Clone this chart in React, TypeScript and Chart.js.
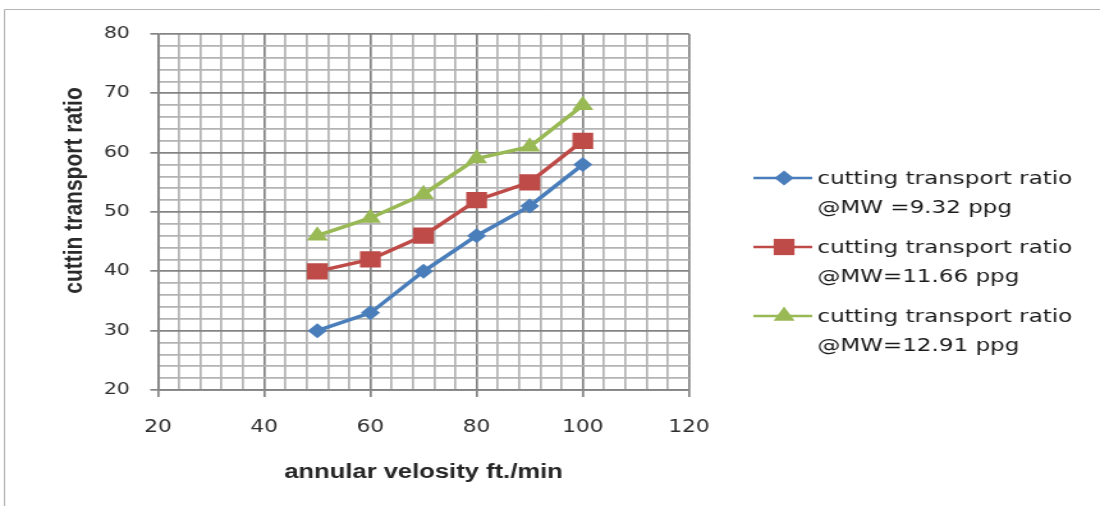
import React, { useEffect, useRef } from "react";
import { Chart, registerables } from "chart.js";

Chart.register(...registerables);

// ---- data ----
const velocity = [50, 60, 70, 80, 90, 100];
const ratioMW932 = [30, 33, 40, 46, 51, 58];
const ratioMW1166 = [40, 42, 46, 52, 55, 62];
const ratioMW1291 = [46, 49, 53, 59, 61, 68];
const seriesLabels = [
  ["cutting transport ratio", "@MW =9.32 ppg"],
  ["cutting transport ratio", "@MW=11.66 ppg"],
  ["cutting transport ratio", "@MW=12.91 ppg"],
];
const seriesColors = ["#4a7ebb", "#be4b48", "#98b954"];
const seriesMarkers = ["rectRot", "rect", "triangle"];
const seriesMarkerSizes = [7.5, 11.5, 9.5];
const xTitle = "annular velosity ft./min";
const yTitle = "cuttin transport ratio";

// ---- geometry (canvas is drawn narrower and stretched horizontally like the reference) ----
const CANVAS_W = 860;
const CANVAS_H = 506;
const STRETCH = 1100 / CANVAS_W;
const MAJOR = "#848484";
const MINOR = "#b3b3b3";

function markerPath(ctx: CanvasRenderingContext2D, style: string, cx: number, cy: number, r: number) {
  ctx.beginPath();
  if (style === "rectRot") {
    ctx.moveTo(cx - r, cy);
    ctx.lineTo(cx, cy - r);
    ctx.lineTo(cx + r, cy);
    ctx.lineTo(cx, cy + r);
  } else if (style === "rect") {
    const h = Math.SQRT1_2 * r;
    ctx.rect(cx - h, cy - h, 2 * h, 2 * h);
  } else {
    for (let k = 0; k < 3; k++) {
      const a = (k * 2 * Math.PI) / 3;
      const px = cx + Math.sin(a) * r;
      const py = cy - Math.cos(a) * r;
      if (k === 0) ctx.moveTo(px, py);
      else ctx.lineTo(px, py);
    }
  }
  ctx.closePath();
}

const framePlugin = {
  id: "frame",
  beforeDraw(chart: any) {
    const ctx = chart.ctx as CanvasRenderingContext2D;
    ctx.save();
    ctx.fillStyle = "#ffffff";
    ctx.fillRect(0, 0, chart.width, chart.height);
    ctx.strokeStyle = "#b5b5b5";
    ctx.lineWidth = 1;
    ctx.beginPath();
    ctx.moveTo(3.5, chart.height);
    ctx.lineTo(3.5, 9.5);
    ctx.lineTo(chart.width, 9.5);
    ctx.stroke();
    ctx.restore();
  },
  afterDraw(chart: any) {
    const ctx = chart.ctx as CanvasRenderingContext2D;
    // y axis title
    ctx.save();
    ctx.translate(58.6, 190.5);
    ctx.rotate(-Math.PI / 2);
    ctx.font = "bold 21px 'Liberation Sans', Arial, sans-serif";
    ctx.fillStyle = "#2a2a2a";
    ctx.textAlign = "center";
    ctx.textBaseline = "middle";
    ctx.fillText(yTitle, 0, 0);
    ctx.restore();

    // legend
    const lineX0 = 589;
    const lineX1 = 635;
    const markX = 613;
    const textX = 639;
    chart.data.datasets.forEach((ds: any, i: number) => {
      const y = 178 + 69 * i;
      ctx.save();
      ctx.strokeStyle = ds.borderColor;
      ctx.lineWidth = 2.5;
      ctx.beginPath();
      ctx.moveTo(lineX0, y);
      ctx.lineTo(lineX1, y);
      ctx.stroke();
      markerPath(ctx, ds.pointStyle, markX, y, ds.pointRadius);
      ctx.fillStyle = ds.pointBackgroundColor;
      ctx.fill();
      ctx.font = "18px 'DejaVu Sans', Verdana, sans-serif";
      ctx.fillStyle = "#1a1a1a";
      ctx.textAlign = "left";
      ctx.textBaseline = "middle";
      const lines: string[] = ds.legendLines;
      lines.forEach((t, j) => ctx.fillText(t, textX, y + 1 + j * 29));
      ctx.restore();
    });
  },
};

export default function App() {
  const canvasRef = useRef<HTMLCanvasElement | null>(null);

  useEffect(() => {
    document.body.style.margin = "0";
    document.body.style.overflow = "hidden";
    const canvas = canvasRef.current;
    if (!canvas) return;
    const series = [ratioMW932, ratioMW1166, ratioMW1291];
    const datasets = series.map((vals, i) => ({
      label: seriesLabels[i].join(" "),
      legendLines: seriesLabels[i],
      data: velocity.map((v, k) => ({ x: v, y: vals[k] })),
      borderColor: seriesColors[i],
      backgroundColor: seriesColors[i],
      borderWidth: 3.5,
      pointStyle: seriesMarkers[i],
      pointRadius: seriesMarkerSizes[i],
      pointBackgroundColor: seriesColors[i],
      pointBorderColor: seriesColors[i],
      pointBorderWidth: 0,
      tension: 0,
      fill: false,
    }));

    const chart = new Chart(canvas, {
      type: "line",
      data: { datasets: datasets as any },
      options: {
        responsive: false,
        animation: false,
        devicePixelRatio: 1,
        layout: { padding: { top: 34, right: CANVAS_W - 538.7, left: 0, bottom: 0 } },
        plugins: { legend: { display: false }, tooltip: { enabled: false } },
        scales: {
          x: {
            type: "linear",
            min: 20,
            max: 120,
            afterFit: (s: any) => {
              s.height = 116;
            },
            ticks: {
              stepSize: 4,
              autoSkip: false,
              maxRotation: 0,
              padding: 20,
              color: "#2e2e2e",
              font: { family: "'DejaVu Sans', Verdana, sans-serif", size: 17 },
              callback: (v: any) => (Number(v) % 20 === 0 ? String(v) : ""),
            },
            grid: {
              color: (c: any) => (c.tick && c.tick.value % 20 === 0 ? MAJOR : MINOR),
              tickColor: (c: any) => (c.tick && c.tick.value % 20 === 0 ? MAJOR : "rgba(0,0,0,0)"),
              lineWidth: 1.7,
              tickLength: 7,
            },
            border: { color: MAJOR, width: 1.7 },
            title: {
              display: true,
              text: xTitle,
              color: "#262626",
              font: { family: "'Liberation Sans', Arial, sans-serif", size: 20, weight: "bold" },
              padding: { top: 0, bottom: 22 },
            },
          },
          y: {
            type: "linear",
            min: 20,
            max: 80,
            afterFit: (s: any) => {
              s.width = 123.5;
            },
            ticks: {
              stepSize: 2,
              autoSkip: false,
              padding: 16,
              color: "#2e2e2e",
              font: { family: "'DejaVu Sans', Verdana, sans-serif", size: 16 },
              callback: (v: any) => (Number(v) % 10 === 0 ? String(v) : ""),
            },
            grid: {
              color: (c: any) => (c.tick && c.tick.value % 10 === 0 ? MAJOR : MINOR),
              tickColor: (c: any) => (c.tick && c.tick.value % 10 === 0 ? MAJOR : "rgba(0,0,0,0)"),
              lineWidth: 1.7,
              tickLength: 6,
            },
            border: { color: MAJOR, width: 1.7 },
          },
        },
      },
      plugins: [framePlugin],
    });
    return () => chart.destroy();
  }, []);

  return (
    <div
      style={{
        width: CANVAS_W,
        height: CANVAS_H,
        transform: `scaleX(${STRETCH})`,
        transformOrigin: "0 0",
      }}
    >
      <canvas ref={canvasRef} width={CANVAS_W} height={CANVAS_H} style={{ display: "block" }} />
    </div>
  );
}
